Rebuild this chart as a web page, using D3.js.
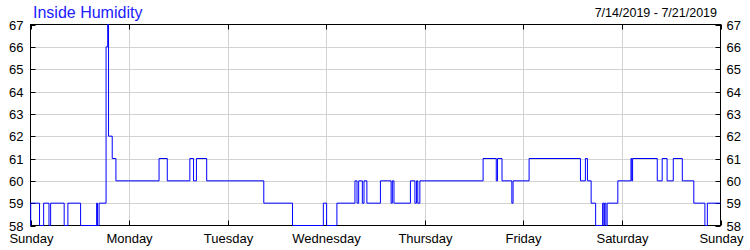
<!DOCTYPE html>
<html>
<head>
<meta charset="utf-8">
<script src="https://cdn.jsdelivr.net/npm/d3@7"></script>
<style>
  body { margin: 0; background: #fff; }
  svg { display: block; font-family: "Liberation Sans", Arial, sans-serif; }
</style>
</head>
<body>
<svg id="chart" width="750" height="250"></svg>
<script>
// hours since Sunday 00:00 and humidity (%)
var hours = [0, 0.05, 2.2, 3.2, 4.5, 4.9, 8.2, 9.1, 12.2, 16.1, 16.3, 16.7, 18.4, 18.8, 19.0, 19.9, 20.8,
  31.3, 33.3, 38.8, 39.7, 40.4, 42.9, 56.8, 63.8, 71.3, 72.1, 74.6, 79.0, 79.5, 79.9, 80.8, 81.2, 81.9,
  85.2, 87.8, 88.1, 88.5, 92.5, 93.6, 94.0, 94.3, 94.8, 110.2, 113.4, 113.7, 114.8, 117.2, 117.5, 121.4,
  133.9, 135.1, 135.6, 136.5, 137.6, 139.3, 139.6, 139.8, 140.1, 140.4, 143.0, 146.2, 146.4, 146.6,
  152.6, 153.8, 155.0, 156.5, 158.7, 161.5, 164.2, 164.8, 168];
var humidity = [58, 59, 58, 59, 58, 59, 58, 59, 58, 59, 58, 59, 66, 67, 62, 61, 60,
  61, 60, 61, 60, 61, 60, 59, 58, 59, 58, 59, 60, 59, 60, 59, 60, 59,
  60, 59, 60, 59, 60, 59, 60, 59, 60, 61, 60, 61, 60, 59, 60, 61,
  60, 61, 60, 59, 58, 59, 58, 59, 58, 59, 60, 61, 60, 61,
  60, 61, 60, 61, 60, 59, 58, 59, 59];
var dayLabels = ["Sunday", "Monday", "Tuesday", "Wednesday", "Thursday", "Friday", "Saturday", "Sunday"];
var yTicks = [58, 59, 60, 61, 62, 63, 64, 65, 66, 67];
var title = "Inside Humidity";
var dateRange = "7/14/2019 - 7/21/2019";

function drawChart() {
  var svg = d3.select("#chart");
  var pl = 30.5, pr = 720.5, pt = 24.5, pb = 225.5;

  var x = d3.scaleLinear().domain([0, 168]).range([pl, pr]);
  var y = d3.scaleLinear().domain([58, 67]).range([pb, pt]);

  var data = hours.map(function(h, i) { return { h: h, v: humidity[i] }; });

  // grid
  var g = svg.append("g");
  yTicks.slice(1, -1).forEach(function(t) {
    var yy = Math.round(y(t)) + 0.5;
    g.append("line").attr("x1", pl).attr("x2", pr).attr("y1", yy).attr("y2", yy)
      .attr("stroke", "#d3d3d3");
  });
  dayLabels.forEach(function(d, i) {
    if (i == 0 || i == dayLabels.length - 1) return;
    var xx = Math.round(x(i * 24)) + 0.5;
    g.append("line").attr("x1", xx).attr("x2", xx).attr("y1", pt).attr("y2", pb)
      .attr("stroke", "#d3d3d3");
  });

  // frame + ticks
  g.append("rect").attr("x", pl).attr("y", pt).attr("width", pr - pl).attr("height", pb - pt)
    .attr("fill", "none").attr("stroke", "#000");
  yTicks.forEach(function(t) {
    var yy = Math.round(y(t)) + 0.5;
    g.append("line").attr("x1", pl).attr("x2", pl + 5).attr("y1", yy).attr("y2", yy).attr("stroke", "#000");
    g.append("line").attr("x1", pr - 5).attr("x2", pr).attr("y1", yy).attr("y2", yy).attr("stroke", "#000");
    g.append("text").attr("x", pl - 7).attr("y", yy).attr("dy", "0.35em")
      .attr("text-anchor", "end").attr("font-size", 13).text(t);
    g.append("text").attr("x", pr + 6).attr("y", yy).attr("dy", "0.35em")
      .attr("text-anchor", "start").attr("font-size", 13).text(t);
  });
  dayLabels.forEach(function(d, i) {
    var xx = Math.round(x(i * 24)) + 0.5;
    g.append("line").attr("x1", xx).attr("x2", xx).attr("y1", pt).attr("y2", pt + 5).attr("stroke", "#000");
    g.append("line").attr("x1", xx).attr("x2", xx).attr("y1", pb - 5).attr("y2", pb).attr("stroke", "#000");
    g.append("text").attr("x", xx).attr("y", 243).attr("text-anchor", "middle")
      .attr("font-size", 13).text(d);
  });

  // humidity line
  var line = d3.line()
    .x(function(d) { return x(d.h); })
    .y(function(d) { return y(d.v); })
    .curve(d3.curveStepAfter);
  svg.append("path").datum(data).attr("d", line)
    .attr("fill", "none").attr("stroke", "#0000ff").attr("stroke-width", 1);

  // titles
  svg.append("text").attr("x", 33).attr("y", 18).attr("font-size", 16).attr("fill", "#2020ff").text(title);
  svg.append("text").attr("x", 717).attr("y", 17).attr("text-anchor", "end").attr("font-size", 12.5)
    .attr("fill", "#000").text(dateRange);
}

drawChart();
</script>
</body>
</html>
